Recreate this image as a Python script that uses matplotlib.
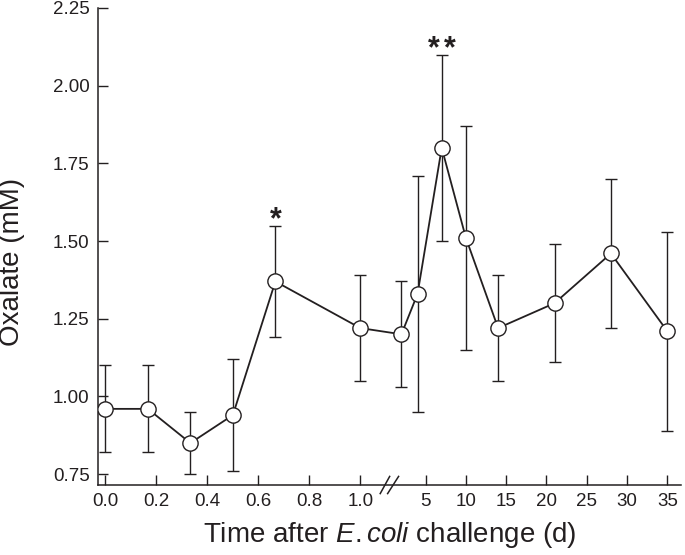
import numpy as np
import matplotlib
matplotlib.use("Agg")
import matplotlib.pyplot as plt
import matplotlib.transforms as mtransforms
from matplotlib.ticker import FixedLocator, FixedFormatter

plt.rcParams["font.family"] = ["Liberation Sans", "DejaVu Sans"]
plt.rcParams["mathtext.fontset"] = "custom"
plt.rcParams["mathtext.rm"] = "Liberation Sans"
plt.rcParams["mathtext.it"] = "Liberation Sans:italic"

# ---- data (days after challenge, oxalate mM, error) ----
days = [0.0, 1 / 6, 1 / 3, 0.5, 2 / 3, 1.0, 2, 4, 7, 10, 14, 21, 28, 35]
oxalate = [0.96, 0.96, 0.85, 0.94, 1.37, 1.22, 1.20, 1.33, 1.80, 1.51, 1.22, 1.30, 1.46, 1.21]
err = [0.14, 0.14, 0.10, 0.18, 0.18, 0.17, 0.17, 0.38, 0.30, 0.36, 0.17, 0.19, 0.24, 0.32]

sig_days = [2 / 3, 7]
sig_stars = [1, 2]

yticks = [0.75, 1.00, 1.25, 1.50, 1.75, 2.00, 2.25]
xticks_left = [0.0, 0.2, 0.4, 0.6, 0.8, 1.0]
xticks_right = [5, 10, 15, 20, 25, 30, 35]

INK = "#231f20"

# ---- broken x scale: hours region (0-1 d) stretched, days region compressed ----
U5 = 1.256   # position of day 5 in "left-day" units
K = 0.0316   # compression of the right part
DB = (U5 - 5 * K) / (1 - K)  # where both pieces meet


def fwd(d):
    d = np.asarray(d, dtype=float)
    return np.where(d <= DB, d, U5 + (d - 5) * K)


def inv(u):
    u = np.asarray(u, dtype=float)
    return np.where(u <= DB, u, 5 + (u - U5) / K)


fig = plt.figure(figsize=(6.85, 5.55), dpi=100)
ax = fig.add_axes([98 / 685, 70 / 555, 583 / 685, 477 / 555])
ax.set_xscale("function", functions=(fwd, inv))

ax.errorbar(days, oxalate, yerr=err, fmt="none", ecolor=INK, elinewidth=1.0,
            capsize=4, capthick=1.0, zorder=2)
ax.plot(days, oxalate, "-", color=INK, lw=1.3, zorder=3)
ax.plot(days, oxalate, "o", ms=11, mfc="white", mec=INK, mew=1.0, zorder=4)

# significance stars above the upper error bar
for d, n in zip(sig_days, sig_stars):
    i = days.index(d)
    for k in range(n):
        dx = (k - (n - 1) / 2) * 11.5
        ax.annotate("*", xy=(d, oxalate[i] + err[i]), xytext=(dx, -2),
                    textcoords="offset points", ha="center", va="baseline",
                    fontsize=22, fontweight="bold", color=INK)

ax.set_xlim(-0.029, 36.7)
ax.set_ylim(0.715, 2.25)

ax.yaxis.set_major_locator(FixedLocator(yticks))
ax.yaxis.set_major_formatter(FixedFormatter([f"{v:.2f}" for v in yticks]))
xt = xticks_left + xticks_right
ax.xaxis.set_major_locator(FixedLocator(xt))
ax.xaxis.set_major_formatter(FixedFormatter(
    [f"{v:.1f}" for v in xticks_left] + [str(v) for v in xticks_right]))
ax.xaxis.set_minor_locator(FixedLocator([]))

ax.tick_params(axis="both", direction="in", length=7, width=1.0, colors=INK,
               labelsize=13.5, labelcolor=INK)
ax.tick_params(axis="y", pad=6)
ax.tick_params(axis="x", pad=6)

for s in ["top", "right"]:
    ax.spines[s].set_visible(False)
for s in ["left", "bottom"]:
    ax.spines[s].set_color(INK)
    ax.spines[s].set_linewidth(1.1)

# axis break marks
trans = mtransforms.blended_transform_factory(ax.transData, ax.transAxes)
for u0, u1 in [(1.078, 1.115), (1.107, 1.150)]:
    ax.plot(inv([u0, u1]), [-0.018, 0.018], color=INK, lw=1.1,
            transform=trans, clip_on=False, zorder=5)

# mathtext puts a small space after "." already
ax.set_xlabel(r"Time after $\mathit{E.coli}$ challenge (d)", fontsize=20,
              color=INK, labelpad=7)
ax.set_ylabel("Oxalate (mM)", fontsize=20, color=INK)
ax.yaxis.set_label_coords(-0.125, 0.467)

fig.savefig("out.png", dpi=100)
